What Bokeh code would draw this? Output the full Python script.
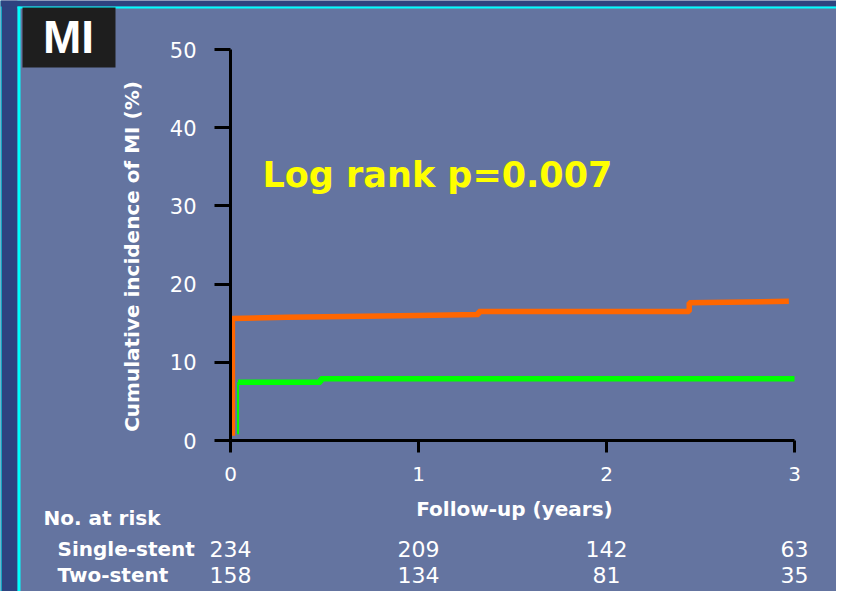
from bokeh.plotting import figure
from bokeh.models import Label, Range1d, FixedTicker, BoxAnnotation
from bokeh.embed import file_html
from bokeh.resources import INLINE

# ---- data ----
orange_t = [0.01, 0.01, 0.3, 0.7, 1.0, 1.32, 1.32, 2.44, 2.44, 2.97]
orange_y = [0.6, 15.6, 15.75, 15.9, 16.0, 16.1, 16.5, 16.5, 17.6, 17.8]
green_t = [0.04, 0.04, 0.48, 0.48, 3.0]
green_y = [0.8, 7.45, 7.45, 7.9, 7.9]
x_ticks = [0, 1, 2, 3]
y_ticks = [0, 10, 20, 30, 40, 50]
risk_times = [0, 1, 2, 3]
single_stent = [234, 209, 142, 63]
two_stent = [158, 134, 81, 35]
group_names = ["Single-stent", "Two-stent"]

BG = "#6474A0"
DARK = "#2E4380"
CYAN = "#00FFFF"
W, H = 836, 591
# pixel positions of x=0, x=3, y=0, y=50 on the canvas
X0, X3, Y0, Y50 = 230, 794, 440, 49
PXX = (X3 - X0) / 3.0
PXY = (Y0 - Y50) / 50.0

p = figure(width=W, height=H, output_backend="svg", toolbar_location=None,
           x_range=Range1d(-X0 / PXX, (W - X0) / PXX),
           y_range=Range1d(-(H - Y0) / PXY, Y0 / PXY),
           min_border_left=0, min_border_right=0, min_border_top=0, min_border_bottom=0,
           background_fill_color=BG, border_fill_color=BG, outline_line_color=None)
p.grid.visible = False

xa = p.xaxis[0]
xa.ticker = FixedTicker(ticks=x_ticks)
xa.bounds = (0, 3)
xa.fixed_location = 0
ya = p.yaxis[0]
ya.ticker = FixedTicker(ticks=y_ticks)
ya.bounds = (0, 50)
ya.fixed_location = 0
for ax, tout, so in ((xa, 12, 14), (ya, 16, 18)):
    ax.axis_line_color = "black"
    ax.axis_line_width = 3
    ax.major_tick_line_color = "black"
    ax.major_tick_line_width = 3
    ax.major_tick_out = tout
    ax.major_tick_in = 0
    ax.minor_tick_line_color = None
    ax.major_label_text_color = "white"
    ax.major_label_text_font = "DejaVu Sans"
    ax.major_label_standoff = so
xa.major_label_text_font_size = "20px"
ya.major_label_text_font_size = "21px"


def box(l, r, t, b, color):
    p.add_layout(BoxAnnotation(left=l, right=r, top=t, bottom=b, left_units="canvas",
                               right_units="canvas", top_units="canvas", bottom_units="canvas",
                               fill_color=color, fill_alpha=1, line_color=None, level="underlay"))


def label(x, y, text, size, bold=True, align="left", color="white", font="DejaVu Sans",
          angle=0, units="canvas"):
    p.add_layout(Label(x=x, y=y, x_units=units, y_units="canvas", text=text,
                       text_align=align, text_baseline="middle", angle=angle,
                       angle_units="deg", text_font=font,
                       text_font_style="bold" if bold else "normal",
                       text_font_size=size, text_color=color))


# frame decorations
box(0, 17, 0, H, DARK)
box(0, 1, 0, H, CYAN)
box(17, 20, 0, H, CYAN)
box(0, W, 0, 6, DARK)
box(17, W, 6, 8, CYAN)
box(22, 115, 7, 67, "#1E1E1E")

p.line(orange_t, orange_y, line_color="#FF6600", line_width=5.5)
p.line(green_t[:2], green_y[:2], line_color="#00FF00", line_width=2)
p.line(green_t[1:], green_y[1:], line_color="#00FF00", line_width=5.5)

label(68, 36, "MI", "46px", align="center", font="Liberation Sans")
label(131, 256, "Cumulative incidence of MI (%)", "20px", align="center", angle=90)
label(262, 174, "Log rank p=0.007", "35px", color="#FFFF00")
label(514, 508, "Follow-up (years)", "20px", align="center")
label(43, 517, "No. at risk", "20px")

for name, row, yc in ((group_names[0], single_stent, 548), (group_names[1], two_stent, 574)):
    label(57, yc, name, "20px")
    for t, n in zip(risk_times, row):
        label(t, yc, str(n), "22px", bold=False, align="center", units="data")

open("out.html", "w").write(file_html(p, INLINE))
